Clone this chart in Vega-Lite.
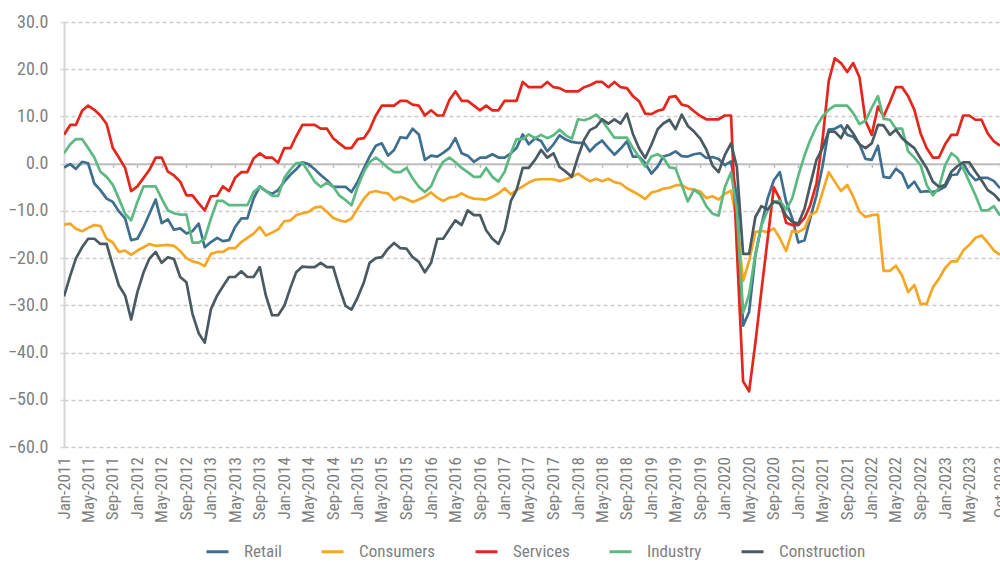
{
"$schema": "https://vega.github.io/schema/vega-lite/v6.json",
"width": 936, "height": 425,
"autosize": {"type": "none"},
"padding": {"left": 64, "top": 22, "right": 0, "bottom": 116},
"background": "white",
"config": {"view": {"stroke": null}, "font": "Roboto Condensed, DejaVu Sans Condensed, Liberation Sans Narrow, Arial Narrow, Roboto"},
"data": {"format": {"parse": {"m": "date:'%Y-%m'"}}, "values": [
{"m":"2011-01","Retail":-0.8,"Consumers":-12.9,"Services":6.1,"Industry":2.2,"Construction":-28.1},
{"m":"2011-02","Retail":-0.1,"Consumers":-12.7,"Services":8.2,"Industry":4.1,"Construction":-23.7},
{"m":"2011-03","Retail":-1.1,"Consumers":-13.8,"Services":8.2,"Industry":5.2,"Construction":-20.1},
{"m":"2011-04","Retail":0.4,"Consumers":-14.3,"Services":11.2,"Industry":5.2,"Construction":-17.7},
{"m":"2011-05","Retail":0.1,"Consumers":-13.6,"Services":12.3,"Industry":3.3,"Construction":-15.9},
{"m":"2011-06","Retail":-4.2,"Consumers":-13.0,"Services":11.4,"Industry":1.3,"Construction":-15.9},
{"m":"2011-07","Retail":-5.6,"Consumers":-13.2,"Services":10.2,"Industry":-1.7,"Construction":-17.0},
{"m":"2011-08","Retail":-7.4,"Consumers":-15.9,"Services":8.4,"Industry":-2.8,"Construction":-17.0},
{"m":"2011-09","Retail":-8.1,"Consumers":-16.7,"Services":3.3,"Industry":-4.5,"Construction":-21.6},
{"m":"2011-10","Retail":-10.1,"Consumers":-18.7,"Services":1.3,"Industry":-7.4,"Construction":-25.8},
{"m":"2011-11","Retail":-11.6,"Consumers":-18.4,"Services":-0.9,"Industry":-10.6,"Construction":-27.9},
{"m":"2011-12","Retail":-16.2,"Consumers":-19.3,"Services":-5.8,"Industry":-12.0,"Construction":-33.0},
{"m":"2012-01","Retail":-15.9,"Consumers":-18.4,"Services":-4.8,"Industry":-8.1,"Construction":-27.2},
{"m":"2012-02","Retail":-13.4,"Consumers":-17.7,"Services":-3.0,"Industry":-4.8,"Construction":-23.0},
{"m":"2012-03","Retail":-10.6,"Consumers":-17.0,"Services":-1.3,"Industry":-4.8,"Construction":-20.1},
{"m":"2012-04","Retail":-7.6,"Consumers":-17.4,"Services":1.3,"Industry":-4.8,"Construction":-18.7},
{"m":"2012-05","Retail":-12.6,"Consumers":-17.3,"Services":1.3,"Industry":-7.4,"Construction":-21.0},
{"m":"2012-06","Retail":-11.8,"Consumers":-17.2,"Services":-1.7,"Industry":-9.9,"Construction":-19.8},
{"m":"2012-07","Retail":-14.0,"Consumers":-17.4,"Services":-2.5,"Industry":-10.5,"Construction":-20.2},
{"m":"2012-08","Retail":-13.7,"Consumers":-18.5,"Services":-3.8,"Industry":-10.8,"Construction":-24.0},
{"m":"2012-09","Retail":-14.8,"Consumers":-20.0,"Services":-6.7,"Industry":-10.8,"Construction":-25.1},
{"m":"2012-10","Retail":-14.3,"Consumers":-20.7,"Services":-6.7,"Industry":-16.7,"Construction":-31.8},
{"m":"2012-11","Retail":-12.7,"Consumers":-21.0,"Services":-8.4,"Industry":-16.7,"Construction":-35.9},
{"m":"2012-12","Retail":-17.7,"Consumers":-21.7,"Services":-9.9,"Industry":-15.9,"Construction":-37.9},
{"m":"2013-01","Retail":-16.6,"Consumers":-19.1,"Services":-6.9,"Industry":-11.6,"Construction":-30.8},
{"m":"2013-02","Retail":-15.7,"Consumers":-18.7,"Services":-6.8,"Industry":-7.9,"Construction":-27.9},
{"m":"2013-03","Retail":-16.4,"Consumers":-18.7,"Services":-4.8,"Industry":-7.9,"Construction":-26.0},
{"m":"2013-04","Retail":-16.2,"Consumers":-17.9,"Services":-5.8,"Industry":-8.8,"Construction":-24.0},
{"m":"2013-05","Retail":-13.4,"Consumers":-17.9,"Services":-3.0,"Industry":-8.8,"Construction":-24.0},
{"m":"2013-06","Retail":-11.6,"Consumers":-16.6,"Services":-1.8,"Industry":-8.8,"Construction":-22.8},
{"m":"2013-07","Retail":-11.6,"Consumers":-15.7,"Services":-1.8,"Industry":-8.8,"Construction":-24.0},
{"m":"2013-08","Retail":-7.4,"Consumers":-14.8,"Services":1.1,"Industry":-6.0,"Construction":-24.0},
{"m":"2013-09","Retail":-4.8,"Consumers":-13.4,"Services":2.2,"Industry":-4.9,"Construction":-21.9},
{"m":"2013-10","Retail":-5.8,"Consumers":-15.2,"Services":1.3,"Industry":-5.8,"Construction":-27.9},
{"m":"2013-11","Retail":-6.4,"Consumers":-14.6,"Services":1.3,"Industry":-6.8,"Construction":-32.1},
{"m":"2013-12","Retail":-5.6,"Consumers":-13.9,"Services":0.2,"Industry":-6.8,"Construction":-32.1},
{"m":"2014-01","Retail":-3.8,"Consumers":-12.2,"Services":3.3,"Industry":-3.0,"Construction":-30.1},
{"m":"2014-02","Retail":-2.3,"Consumers":-12.0,"Services":3.3,"Industry":-1.2,"Construction":-26.2},
{"m":"2014-03","Retail":-1.2,"Consumers":-10.9,"Services":5.8,"Industry":0.1,"Construction":-23.0},
{"m":"2014-04","Retail":0.3,"Consumers":-10.5,"Services":8.2,"Industry":0.2,"Construction":-21.8},
{"m":"2014-05","Retail":-0.1,"Consumers":-10.2,"Services":8.2,"Industry":-1.7,"Construction":-21.9},
{"m":"2014-06","Retail":-1.2,"Consumers":-9.3,"Services":8.2,"Industry":-3.8,"Construction":-21.9},
{"m":"2014-07","Retail":-2.4,"Consumers":-9.1,"Services":7.4,"Industry":-4.9,"Construction":-21.0},
{"m":"2014-08","Retail":-3.5,"Consumers":-10.2,"Services":7.4,"Industry":-4.0,"Construction":-21.9},
{"m":"2014-09","Retail":-4.9,"Consumers":-11.5,"Services":5.4,"Industry":-4.9,"Construction":-21.9},
{"m":"2014-10","Retail":-4.9,"Consumers":-12.0,"Services":4.3,"Industry":-6.7,"Construction":-26.2},
{"m":"2014-11","Retail":-4.9,"Consumers":-12.3,"Services":3.3,"Industry":-7.7,"Construction":-30.1},
{"m":"2014-12","Retail":-6.0,"Consumers":-11.6,"Services":3.3,"Industry":-8.8,"Construction":-30.9},
{"m":"2015-01","Retail":-3.8,"Consumers":-9.5,"Services":5.2,"Industry":-4.9,"Construction":-28.3},
{"m":"2015-02","Retail":-1.0,"Consumers":-7.4,"Services":5.4,"Industry":-1.7,"Construction":-25.1},
{"m":"2015-03","Retail":1.5,"Consumers":-6.1,"Services":7.2,"Industry":0.3,"Construction":-21.0},
{"m":"2015-04","Retail":3.8,"Consumers":-5.8,"Services":10.2,"Industry":1.3,"Construction":-20.0},
{"m":"2015-05","Retail":4.3,"Consumers":-6.1,"Services":12.3,"Industry":0.3,"Construction":-19.8},
{"m":"2015-06","Retail":1.7,"Consumers":-6.3,"Services":12.3,"Industry":-0.9,"Construction":-18.0},
{"m":"2015-07","Retail":2.9,"Consumers":-7.7,"Services":12.3,"Industry":-1.8,"Construction":-16.8},
{"m":"2015-08","Retail":5.6,"Consumers":-7.0,"Services":13.3,"Industry":-1.8,"Construction":-17.9},
{"m":"2015-09","Retail":5.4,"Consumers":-7.5,"Services":13.3,"Industry":-0.9,"Construction":-18.0},
{"m":"2015-10","Retail":7.4,"Consumers":-8.1,"Services":12.5,"Industry":-3.1,"Construction":-19.8},
{"m":"2015-11","Retail":6.2,"Consumers":-7.6,"Services":12.3,"Industry":-4.9,"Construction":-20.8},
{"m":"2015-12","Retail":0.8,"Consumers":-7.0,"Services":10.2,"Industry":-6.0,"Construction":-23.0},
{"m":"2016-01","Retail":1.7,"Consumers":-6.1,"Services":11.3,"Industry":-4.8,"Construction":-21.0},
{"m":"2016-02","Retail":1.5,"Consumers":-7.2,"Services":10.2,"Industry":-1.7,"Construction":-15.9},
{"m":"2016-03","Retail":2.3,"Consumers":-7.9,"Services":10.2,"Industry":0.4,"Construction":-15.9},
{"m":"2016-04","Retail":3.3,"Consumers":-7.2,"Services":13.5,"Industry":1.3,"Construction":-13.9},
{"m":"2016-05","Retail":5.4,"Consumers":-7.0,"Services":15.3,"Industry":0.3,"Construction":-12.0},
{"m":"2016-06","Retail":2.2,"Consumers":-6.3,"Services":13.3,"Industry":-0.9,"Construction":-13.0},
{"m":"2016-07","Retail":1.7,"Consumers":-7.0,"Services":13.3,"Industry":-1.8,"Construction":-9.9},
{"m":"2016-08","Retail":0.4,"Consumers":-7.4,"Services":12.3,"Industry":-2.8,"Construction":-10.9},
{"m":"2016-09","Retail":1.3,"Consumers":-7.5,"Services":11.3,"Industry":-2.8,"Construction":-10.9},
{"m":"2016-10","Retail":1.3,"Consumers":-7.6,"Services":12.3,"Industry":-0.9,"Construction":-14.1},
{"m":"2016-11","Retail":2.0,"Consumers":-7.0,"Services":11.3,"Industry":-2.8,"Construction":-15.9},
{"m":"2016-12","Retail":1.3,"Consumers":-6.3,"Services":11.3,"Industry":-3.8,"Construction":-17.0},
{"m":"2017-01","Retail":1.3,"Consumers":-5.2,"Services":13.3,"Industry":-1.7,"Construction":-14.1},
{"m":"2017-02","Retail":2.2,"Consumers":-6.5,"Services":13.3,"Industry":2.2,"Construction":-7.9},
{"m":"2017-03","Retail":3.3,"Consumers":-5.6,"Services":13.3,"Industry":5.2,"Construction":-5.6},
{"m":"2017-04","Retail":6.2,"Consumers":-4.8,"Services":17.3,"Industry":5.2,"Construction":-0.9},
{"m":"2017-05","Retail":4.1,"Consumers":-4.0,"Services":16.2,"Industry":6.2,"Construction":-0.9},
{"m":"2017-06","Retail":5.4,"Consumers":-3.4,"Services":16.2,"Industry":5.4,"Construction":0.8},
{"m":"2017-07","Retail":4.8,"Consumers":-3.3,"Services":16.2,"Industry":6.1,"Construction":2.9},
{"m":"2017-08","Retail":2.6,"Consumers":-3.3,"Services":17.3,"Industry":5.4,"Construction":1.3},
{"m":"2017-09","Retail":4.1,"Consumers":-3.3,"Services":16.2,"Industry":6.0,"Construction":2.2},
{"m":"2017-10","Retail":6.0,"Consumers":-3.7,"Services":16.0,"Industry":7.2,"Construction":-0.7},
{"m":"2017-11","Retail":5.1,"Consumers":-3.3,"Services":15.3,"Industry":6.0,"Construction":-1.7},
{"m":"2017-12","Retail":4.6,"Consumers":-2.8,"Services":15.3,"Industry":5.3,"Construction":-2.8},
{"m":"2018-01","Retail":4.4,"Consumers":-2.1,"Services":15.3,"Industry":9.4,"Construction":1.5},
{"m":"2018-02","Retail":4.4,"Consumers":-3.0,"Services":16.2,"Industry":9.2,"Construction":5.1},
{"m":"2018-03","Retail":2.6,"Consumers":-3.7,"Services":16.6,"Industry":9.6,"Construction":7.1},
{"m":"2018-04","Retail":4.0,"Consumers":-3.2,"Services":17.3,"Industry":10.4,"Construction":7.8},
{"m":"2018-05","Retail":4.9,"Consumers":-3.7,"Services":17.3,"Industry":9.1,"Construction":9.4},
{"m":"2018-06","Retail":3.3,"Consumers":-3.2,"Services":16.2,"Industry":7.3,"Construction":8.5},
{"m":"2018-07","Retail":1.9,"Consumers":-3.9,"Services":17.3,"Industry":5.5,"Construction":9.4},
{"m":"2018-08","Retail":3.2,"Consumers":-4.2,"Services":16.2,"Industry":5.5,"Construction":8.5},
{"m":"2018-09","Retail":4.7,"Consumers":-5.2,"Services":16.0,"Industry":5.5,"Construction":10.6},
{"m":"2018-10","Retail":1.5,"Consumers":-5.9,"Services":14.3,"Industry":3.3,"Construction":6.3},
{"m":"2018-11","Retail":1.5,"Consumers":-6.6,"Services":13.2,"Industry":1.3,"Construction":3.2},
{"m":"2018-12","Retail":0.1,"Consumers":-7.5,"Services":10.6,"Industry":-0.6,"Construction":1.2},
{"m":"2019-01","Retail":-2.1,"Consumers":-6.1,"Services":10.5,"Industry":1.5,"Construction":4.0},
{"m":"2019-02","Retail":-0.6,"Consumers":-5.8,"Services":11.2,"Industry":2.0,"Construction":7.3},
{"m":"2019-03","Retail":1.5,"Consumers":-5.3,"Services":11.5,"Industry":1.3,"Construction":8.5},
{"m":"2019-04","Retail":1.9,"Consumers":-5.1,"Services":14.1,"Industry":-0.8,"Construction":9.3},
{"m":"2019-05","Retail":2.6,"Consumers":-4.6,"Services":14.3,"Industry":-1.0,"Construction":7.3},
{"m":"2019-06","Retail":1.6,"Consumers":-4.5,"Services":12.5,"Industry":-4.5,"Construction":10.4},
{"m":"2019-07","Retail":1.5,"Consumers":-5.3,"Services":12.2,"Industry":-8.0,"Construction":8.0},
{"m":"2019-08","Retail":2.0,"Consumers":-5.5,"Services":11.1,"Industry":-5.5,"Construction":6.8},
{"m":"2019-09","Retail":2.2,"Consumers":-5.9,"Services":10.1,"Industry":-6.5,"Construction":5.3},
{"m":"2019-10","Retail":1.2,"Consumers":-7.3,"Services":9.4,"Industry":-9.0,"Construction":3.0},
{"m":"2019-11","Retail":1.4,"Consumers":-6.9,"Services":9.4,"Industry":-10.6,"Construction":-0.4},
{"m":"2019-12","Retail":1.0,"Consumers":-7.6,"Services":9.4,"Industry":-11.0,"Construction":-1.8},
{"m":"2020-01","Retail":-0.3,"Consumers":-6.4,"Services":10.2,"Industry":-5.0,"Construction":1.8},
{"m":"2020-02","Retail":0.5,"Consumers":-5.7,"Services":10.2,"Industry":-1.8,"Construction":4.3},
{"m":"2020-03","Retail":-7.0,"Consumers":-12.0,"Services":-18.0,"Industry":-10.0,"Construction":-0.7},
{"m":"2020-04","Retail":-34.3,"Consumers":-24.8,"Services":-46.1,"Industry":-31.6,"Construction":-19.1},
{"m":"2020-05","Retail":-31.4,"Consumers":-20.6,"Services":-48.2,"Industry":-27.7,"Construction":-19.1},
{"m":"2020-06","Retail":-19.5,"Consumers":-14.5,"Services":-38.0,"Industry":-19.1,"Construction":-11.3},
{"m":"2020-07","Retail":-13.1,"Consumers":-14.2,"Services":-27.0,"Industry":-13.1,"Construction":-9.0},
{"m":"2020-08","Retail":-7.4,"Consumers":-14.5,"Services":-16.0,"Industry":-9.9,"Construction":-9.7},
{"m":"2020-09","Retail":-3.5,"Consumers":-13.7,"Services":-5.0,"Industry":-8.2,"Construction":-8.0},
{"m":"2020-10","Retail":-1.8,"Consumers":-15.8,"Services":-7.5,"Industry":-7.8,"Construction":-8.5},
{"m":"2020-11","Retail":-8.0,"Consumers":-18.5,"Services":-12.5,"Industry":-9.7,"Construction":-11.0},
{"m":"2020-12","Retail":-11.5,"Consumers":-14.3,"Services":-13.0,"Industry":-7.4,"Construction":-12.3},
{"m":"2021-01","Retail":-16.7,"Consumers":-14.5,"Services":-13.0,"Industry":-2.5,"Construction":-12.7},
{"m":"2021-02","Retail":-16.2,"Consumers":-13.7,"Services":-11.5,"Industry":1.8,"Construction":-9.5},
{"m":"2021-03","Retail":-11.6,"Consumers":-10.9,"Services":-8.8,"Industry":5.0,"Construction":-4.5},
{"m":"2021-04","Retail":-6.7,"Consumers":-10.2,"Services":-4.2,"Industry":7.9,"Construction":0.8},
{"m":"2021-05","Retail":-0.6,"Consumers":-6.1,"Services":5.0,"Industry":10.0,"Construction":3.3},
{"m":"2021-06","Retail":7.2,"Consumers":-1.8,"Services":17.5,"Industry":11.4,"Construction":6.8},
{"m":"2021-07","Retail":7.4,"Consumers":-3.8,"Services":22.3,"Industry":12.3,"Construction":6.8},
{"m":"2021-08","Retail":8.1,"Consumers":-5.8,"Services":21.3,"Industry":12.3,"Construction":5.4},
{"m":"2021-09","Retail":6.1,"Consumers":-4.5,"Services":19.4,"Industry":12.3,"Construction":8.1},
{"m":"2021-10","Retail":5.7,"Consumers":-7.0,"Services":21.3,"Industry":10.7,"Construction":6.4},
{"m":"2021-11","Retail":4.1,"Consumers":-10.2,"Services":18.3,"Industry":8.4,"Construction":4.1},
{"m":"2021-12","Retail":1.0,"Consumers":-11.3,"Services":9.1,"Industry":9.1,"Construction":3.3},
{"m":"2022-01","Retail":0.8,"Consumers":-10.9,"Services":6.1,"Industry":11.8,"Construction":4.3},
{"m":"2022-02","Retail":3.8,"Consumers":-10.8,"Services":12.1,"Industry":14.3,"Construction":8.2},
{"m":"2022-03","Retail":-2.8,"Consumers":-22.7,"Services":10.0,"Industry":9.5,"Construction":8.1},
{"m":"2022-04","Retail":-3.0,"Consumers":-22.7,"Services":13.0,"Industry":9.3,"Construction":6.1},
{"m":"2022-05","Retail":-1.1,"Consumers":-21.6,"Services":16.2,"Industry":7.4,"Construction":7.2},
{"m":"2022-06","Retail":-2.1,"Consumers":-23.7,"Services":16.2,"Industry":7.4,"Construction":5.4},
{"m":"2022-07","Retail":-5.1,"Consumers":-27.2,"Services":14.3,"Industry":2.6,"Construction":4.3},
{"m":"2022-08","Retail":-3.8,"Consumers":-25.7,"Services":11.4,"Industry":1.3,"Construction":3.3},
{"m":"2022-09","Retail":-6.0,"Consumers":-29.7,"Services":6.4,"Industry":-0.3,"Construction":1.1},
{"m":"2022-10","Retail":-5.8,"Consumers":-29.7,"Services":3.3,"Industry":-4.5,"Construction":-0.9},
{"m":"2022-11","Retail":-6.0,"Consumers":-26.2,"Services":1.3,"Industry":-6.7,"Construction":-3.8},
{"m":"2022-12","Retail":-5.6,"Consumers":-24.4,"Services":1.3,"Industry":-5.1,"Construction":-4.9},
{"m":"2023-01","Retail":-4.9,"Consumers":-22.1,"Services":4.1,"Industry":-0.3,"Construction":-4.5},
{"m":"2023-02","Retail":-2.4,"Consumers":-20.7,"Services":6.1,"Industry":2.2,"Construction":-1.7},
{"m":"2023-03","Retail":-2.3,"Consumers":-20.7,"Services":6.1,"Industry":1.3,"Construction":-0.6},
{"m":"2023-04","Retail":0.1,"Consumers":-18.4,"Services":10.2,"Industry":-1.0,"Construction":0.3},
{"m":"2023-05","Retail":-2.1,"Consumers":-17.2,"Services":10.2,"Industry":-3.8,"Construction":0.3},
{"m":"2023-06","Retail":-3.5,"Consumers":-15.7,"Services":9.3,"Industry":-6.7,"Construction":-1.7},
{"m":"2023-07","Retail":-3.0,"Consumers":-15.2,"Services":9.3,"Industry":-9.9,"Construction":-3.5},
{"m":"2023-08","Retail":-3.0,"Consumers":-16.7,"Services":6.4,"Industry":-9.9,"Construction":-5.6},
{"m":"2023-09","Retail":-3.7,"Consumers":-18.4,"Services":4.7,"Industry":-9.0,"Construction":-6.5},
{"m":"2023-10","Retail":-5.2,"Consumers":-19.3,"Services":3.8,"Industry":-11.0,"Construction":-7.9}
]},
"transform": [{"fold": ["Retail", "Consumers", "Services", "Industry", "Construction"], "as": ["series", "value"]}],
"mark": {"type": "line", "strokeWidth": 2.7, "strokeJoin": "round", "clip": true},
"encoding": {
  "x": {"field": "m", "type": "temporal",
    "scale": {"domain": [{"year": 2011, "month": 1, "date": 1}, {"year": 2023, "month": 10, "date": 1}], "nice": false},
    "axis": {"title": null, "format": "%b-%Y", "labelAngle": -90, "offset": -283.3,
      "values": [
        {"year":2011,"month":1,"date":1},{"year":2011,"month":5,"date":1},{"year":2011,"month":9,"date":1},
        {"year":2012,"month":1,"date":1},{"year":2012,"month":5,"date":1},{"year":2012,"month":9,"date":1},
        {"year":2013,"month":1,"date":1},{"year":2013,"month":5,"date":1},{"year":2013,"month":9,"date":1},
        {"year":2014,"month":1,"date":1},{"year":2014,"month":5,"date":1},{"year":2014,"month":9,"date":1},
        {"year":2015,"month":1,"date":1},{"year":2015,"month":5,"date":1},{"year":2015,"month":9,"date":1},
        {"year":2016,"month":1,"date":1},{"year":2016,"month":5,"date":1},{"year":2016,"month":9,"date":1},
        {"year":2017,"month":1,"date":1},{"year":2017,"month":5,"date":1},{"year":2017,"month":9,"date":1},
        {"year":2018,"month":1,"date":1},{"year":2018,"month":5,"date":1},{"year":2018,"month":9,"date":1},
        {"year":2019,"month":1,"date":1},{"year":2019,"month":5,"date":1},{"year":2019,"month":9,"date":1},
        {"year":2020,"month":1,"date":1},{"year":2020,"month":5,"date":1},{"year":2020,"month":9,"date":1},
        {"year":2021,"month":1,"date":1},{"year":2021,"month":5,"date":1},{"year":2021,"month":9,"date":1},
        {"year":2022,"month":1,"date":1},{"year":2022,"month":5,"date":1},{"year":2022,"month":9,"date":1},
        {"year":2023,"month":1,"date":1},{"year":2023,"month":5,"date":1},{"year":2023,"month":10,"date":1}
      ],
      "domain": true, "domainColor": "#bfbfbf", "domainWidth": 2,
      "ticks": true, "tickSize": 4, "tickColor": "#bfbfbf", "tickWidth": 1.5,
      "labelPadding": 289, "labelFontSize": 17, "labelColor": "#7f7f7f",
      "labelOverlap": false, "labelFlush": false, "grid": false}},
  "y": {"field": "value", "type": "quantitative",
    "scale": {"domain": [-60, 30], "nice": false, "zero": false},
    "axis": {"title": null, "values": [-60, -50, -40, -30, -20, -10, 0, 10, 20, 30], "format": ".1f",
      "grid": true, "gridDash": [4, 3], "gridColor": "#cccccc", "gridWidth": 1.5,
      "domain": true, "domainColor": "#d6d6d6", "domainWidth": 2,
      "ticks": true, "tickSize": 4, "tickColor": "#d6d6d6", "tickWidth": 1.5,
      "labelPadding": 12, "labelFontSize": 18, "labelColor": "#7f7f7f"}},
  "color": {"field": "series", "type": "nominal",
    "scale": {"domain": ["Retail", "Consumers", "Services", "Industry", "Construction"],
      "range": ["#3f6f8f", "#f7a623", "#e4261c", "#5cb982", "#4a5a62"]},
    "legend": {"title": null, "orient": "none", "legendX": 141, "legendY": 517, "direction": "horizontal",
      "symbolType": "stroke", "symbolStrokeWidth": 3, "symbolSize": 484,
      "labelFontSize": 17, "labelColor": "#7f7f7f", "labelOffset": 14, "columnPadding": 33, "padding": 0}}
}
}
